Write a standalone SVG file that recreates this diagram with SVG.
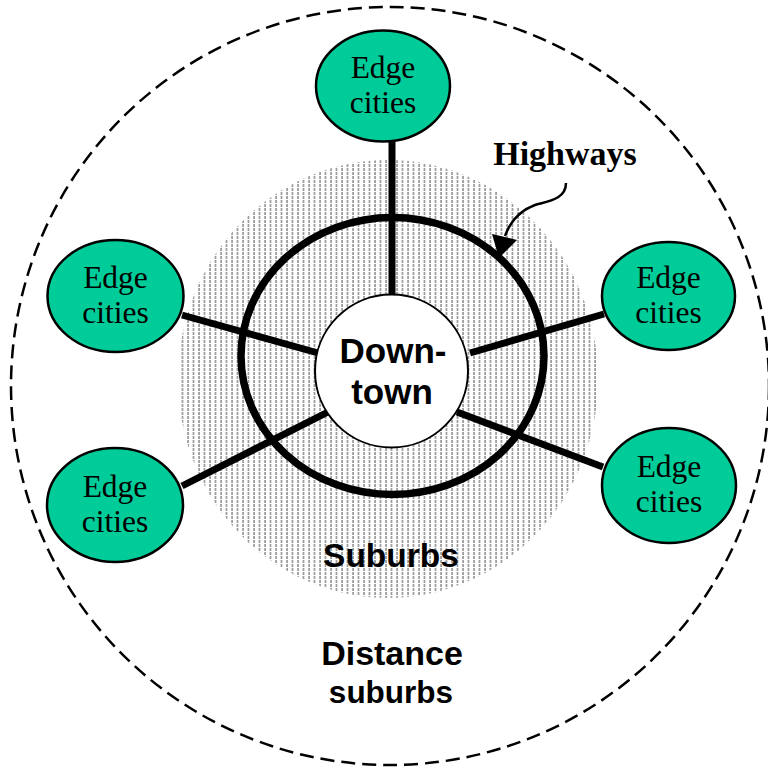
<svg xmlns="http://www.w3.org/2000/svg" width="768" height="771" viewBox="0 0 768 771">
  <style>
    .edge { fill: #00CC99; stroke: #000; stroke-width: 2.5; }
    .edge-label { font-family: "Liberation Serif", "Times New Roman", serif; font-size: 31.5px; fill: #000; text-anchor: middle; }
    .zone-label { font-family: "Liberation Sans", Arial, sans-serif; font-weight: bold; fill: #000; text-anchor: middle; }
    .spoke { stroke: #000; stroke-width: 7; stroke-linecap: butt; fill: none; }
  </style>
  <defs>
    <!-- fine vertical dashed shading for the suburbs ring -->
    <pattern id="hatch" patternUnits="userSpaceOnUse" width="5.5" height="4">
      <line x1="1" y1="0" x2="1" y2="3" stroke="#505050" stroke-width="1"/>
    </pattern>
  </defs>

  <rect width="768" height="771" fill="#fff"/>

  <!-- distant suburbs boundary -->
  <g id="distance-suburbs">
    <circle cx="390" cy="386" r="379" fill="none" stroke="#000" stroke-width="2.5" stroke-dasharray="14 7"/>
    <text class="zone-label" x="392" y="665" font-size="34">Distance</text>
    <text class="zone-label" x="391" y="703" font-size="31.5">suburbs</text>
  </g>

  <!-- suburbs shading -->
  <g id="suburbs">
    <ellipse cx="388" cy="379" rx="210" ry="219" fill="url(#hatch)"/>
    <text class="zone-label" x="391" y="567" font-size="33.5">Suburbs</text>
  </g>

  <!-- spokes linking downtown to edge cities -->
  <g id="connectors">
    <line class="spoke" x1="392" y1="140" x2="392" y2="297"/>
    <line class="spoke" x1="182" y1="315" x2="318" y2="353"/>
    <line class="spoke" x1="182" y1="486" x2="328" y2="412"/>
    <line class="spoke" x1="470" y1="353" x2="604" y2="314"/>
    <line class="spoke" x1="457" y1="412" x2="603" y2="467"/>
  </g>

  <!-- ring highway -->
  <g id="highways">
    <ellipse cx="392.5" cy="356" rx="151.5" ry="138.5" fill="none" stroke="#000" stroke-width="7.5"/>
    <text x="565" y="165" font-family="Liberation Serif, 'Times New Roman', serif" font-weight="bold" font-size="34" text-anchor="middle">Highways</text>
    <path d="M566,183 C566,199 549,201 535,205 C519,211 510,222 505,236" fill="none" stroke="#000" stroke-width="2.5"/>
    <polygon points="492,234 517,240 499,258" fill="#000"/>
  </g>

  <!-- downtown -->
  <g id="downtown">
    <circle cx="391.5" cy="371" r="76.5" fill="#fff" stroke="#000" stroke-width="2"/>
    <text class="zone-label" x="393" y="363" font-size="35">Down-</text>
    <text class="zone-label" x="392" y="404" font-size="35">town</text>
  </g>

  <!-- edge cities -->
  <g id="edge-top">
    <ellipse class="edge" cx="383" cy="86" rx="67" ry="55.5"/>
    <text class="edge-label" x="383" y="78">Edge</text>
    <text class="edge-label" x="383" y="113">cities</text>
  </g>
  <g id="edge-left-upper">
    <ellipse class="edge" cx="115.5" cy="296" rx="68" ry="56"/>
    <text class="edge-label" x="115.5" y="288">Edge</text>
    <text class="edge-label" x="115.5" y="323">cities</text>
  </g>
  <g id="edge-left-lower">
    <ellipse class="edge" cx="115" cy="505" rx="68" ry="57"/>
    <text class="edge-label" x="115" y="497">Edge</text>
    <text class="edge-label" x="115" y="532">cities</text>
  </g>
  <g id="edge-right-upper">
    <ellipse class="edge" cx="668.5" cy="296" rx="66.5" ry="54"/>
    <text class="edge-label" x="668.5" y="288">Edge</text>
    <text class="edge-label" x="668.5" y="323">cities</text>
  </g>
  <g id="edge-right-lower">
    <ellipse class="edge" cx="669" cy="485.5" rx="67" ry="57.5"/>
    <text class="edge-label" x="669" y="477">Edge</text>
    <text class="edge-label" x="669" y="512">cities</text>
  </g>
</svg>
